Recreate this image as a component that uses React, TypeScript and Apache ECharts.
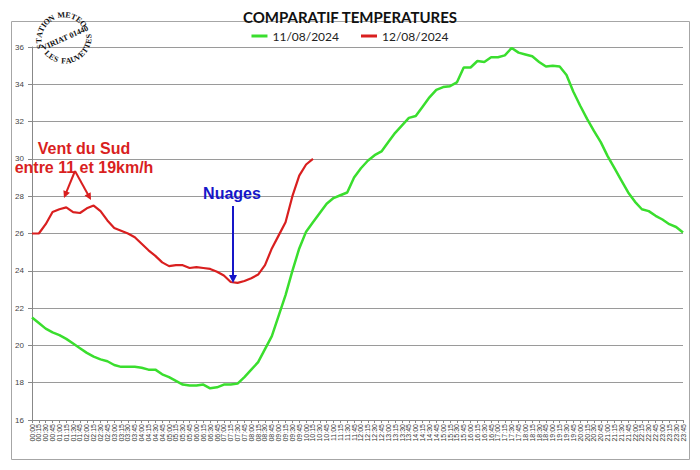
import React, { useEffect, useRef } from 'react';
import * as echarts from 'echarts';

// x-axis tick labels: every 15 minutes over the day
const timeLabels: string[] = [];
for (let h = 0; h < 24; h++) {
  for (let m = 0; m < 60; m += 15) {
    timeLabels.push(`${String(h).padStart(2, '0')}:${String(m).padStart(2, '0')}`);
  }
}

const seriesNames = ['11/08/2024', '12/08/2024'];

const temps11 = [
  21.5, 21.2, 20.9, 20.7, 20.55, 20.35, 20.1, 19.85, 19.6, 19.4,
  19.25, 19.15, 18.95, 18.85, 18.85, 18.85, 18.8, 18.7, 18.7, 18.45,
  18.3, 18.1, 17.9, 17.85, 17.85, 17.9, 17.7, 17.75, 17.9, 17.9,
  17.95, 18.3, 18.7, 19.1, 19.8, 20.5, 21.6, 22.7, 24.0, 25.2,
  26.1, 26.6, 27.1, 27.6, 27.9, 28.05, 28.2, 29.0, 29.5, 29.9,
  30.2, 30.4, 30.9, 31.4, 31.8, 32.2, 32.3, 32.8, 33.3, 33.7,
  33.85, 33.9, 34.1, 34.9, 34.9, 35.25, 35.2, 35.45, 35.45, 35.55,
  35.95, 35.7, 35.6, 35.5, 35.2, 34.95, 35.0, 34.95, 34.5, 33.6,
  32.85, 32.15, 31.5, 30.9, 30.15, 29.5, 28.85, 28.2, 27.7, 27.3,
  27.2, 26.95, 26.75, 26.5, 26.35, 26.05,
];

const temps12 = [
  26.0, 26.0, 26.5, 27.15, 27.3, 27.4, 27.15, 27.1, 27.35, 27.5,
  27.2, 26.7, 26.3, 26.15, 26.0, 25.8, 25.45, 25.1, 24.8, 24.45,
  24.25, 24.3, 24.3, 24.15, 24.2, 24.15, 24.1, 23.95, 23.75, 23.4,
  23.35, 23.45, 23.6, 23.8, 24.3, 25.2, 25.9, 26.6, 28.0, 29.1,
  29.7, 30.0,
];

const yMin = 16;
const yMax = 36;
const yStep = 2;

const titleText = 'COMPARATIF TEMPERATURES';
const logoTop = 'STATION METEO';
const logoMid = 'VIRIAT 01440';
const logoBottom = 'LES FAUVETTES';
const noteWind1 = 'Vent du Sud';
const noteWind2 = 'entre 11 et 19km/h';
const noteClouds = 'Nuages';

const deg = Math.PI / 180;

function charW(c: string) {
  if (c === 'I' || c === ' ') return 0.55;
  if (c === 'M') return 1.35;
  return 1;
}

function arcText(str: string, cx: number, cy: number, r: number, startDeg: number, endDeg: number, outward: boolean) {
  const els: any[] = [];
  const n = str.length;
  const ws = str.split('').map(charW);
  const total = ws.reduce((a, b) => a + b, 0) - ws[0] / 2 - ws[n - 1] / 2;
  let acc = 0;
  for (let i = 0; i < n; i++) {
    if (i > 0) acc += (ws[i - 1] + ws[i]) / 2;
    const th = startDeg + ((endDeg - startDeg) * acc) / total;
    const x = cx + r * Math.cos(th * deg);
    const y = cy + r * Math.sin(th * deg);
    const rot = outward ? -(th + 90) * deg : -(th - 90) * deg;
    if (str[i] === ' ') continue;
    els.push({
      type: 'text',
      x,
      y,
      rotation: rot,
      z: 100,
      style: {
        text: str[i],
        font: 'bold 8px "Liberation Serif"',
        fill: '#111',
        align: 'center',
        verticalAlign: 'middle',
      },
    });
  }
  return els;
}

function arrow(x1: number, y1: number, x2: number, y2: number, color: string, width: number, head: number, half: number) {
  const dx = x2 - x1;
  const dy = y2 - y1;
  const len = Math.sqrt(dx * dx + dy * dy);
  const ux = dx / len;
  const uy = dy / len;
  const bx = x2 - ux * head;
  const by = y2 - uy * head;
  const px = -uy * half;
  const py = ux * half;
  return [
    {
      type: 'line',
      z: 100,
      shape: { x1, y1, x2: bx + ux * 1, y2: by + uy * 1 },
      style: { stroke: color, lineWidth: width },
    },
    {
      type: 'polygon',
      z: 100,
      shape: { points: [[x2, y2], [bx + px, by + py], [bx - px, by - py]] },
      style: { fill: color },
    },
  ];
}

export default function App() {
  const ref = useRef<HTMLDivElement>(null);
  useEffect(() => {
    if (!ref.current) return;
    const chart = echarts.init(ref.current, undefined, { renderer: 'svg' });
    const red = '#d91f1f';
    const green = '#3ade2e';
    const blue = '#1616c8';
    const graphic: any[] = [
      {
        type: 'rect',
        z: 0,
        shape: { x: 11.5, y: 21.5, width: 678, height: 438 },
        style: { fill: 'none', stroke: '#a6a6a6', lineWidth: 1 },
      },
      ...arcText(logoTop, 64, 40, 25, 165, 320, true),
      ...arcText(logoBottom, 65, 37, 24, 136, -2, false),
      {
        type: 'text',
        x: 65,
        y: 38,
        rotation: 24 * deg,
        z: 100,
        style: {
          text: logoMid,
          font: 'bold 8px "Liberation Serif"',
          fill: '#111',
          align: 'center',
          verticalAlign: 'middle',
        },
      },
      {
        type: 'text',
        x: 84,
        y: 148,
        z: 100,
        style: {
          text: noteWind1,
          font: 'bold 16px "Liberation Sans"',
          fill: red,
          align: 'center',
          verticalAlign: 'middle',
        },
      },
      {
        type: 'text',
        x: 84,
        y: 167,
        z: 100,
        style: {
          text: noteWind2,
          font: 'bold 16px "Liberation Sans"',
          fill: red,
          align: 'center',
          verticalAlign: 'middle',
        },
      },
      ...arrow(75, 171, 64, 198, red, 2, 7, 3.5),
      ...arrow(75, 171, 91, 200, red, 2, 7, 3.5),
      {
        type: 'text',
        x: 232,
        y: 193,
        z: 100,
        style: {
          text: noteClouds,
          font: 'bold 16px "Liberation Sans"',
          fill: blue,
          align: 'center',
          verticalAlign: 'middle',
        },
      },
      ...arrow(233, 206, 233, 283, blue, 2, 8, 4),
    ];

    chart.setOption({
      animation: false,
      backgroundColor: '#ffffff',
      title: {
        text: titleText,
        left: 'center',
        top: 4,
        textStyle: {
          fontFamily: 'Lato',
          fontWeight: 'bold',
          fontSize: 15,
          color: '#111',
        },
      },
      legend: {
        top: 25,
        left: 'center',
        itemWidth: 16,
        itemHeight: 3,
        itemGap: 22,
        icon: 'rect',
        textStyle: { fontFamily: 'Lato', fontSize: 12, color: '#222' },
        data: seriesNames,
      },
      grid: { left: 32, right: 17, top: 47, bottom: 50, containLabel: false },
      xAxis: {
        type: 'category',
        data: timeLabels,
        boundaryGap: false,
        axisLine: { lineStyle: { color: '#888', width: 1 } },
        axisTick: { show: true, interval: 0, length: 3, lineStyle: { color: '#888' } },
        axisLabel: {
          interval: 0,
          rotate: 90,
          fontSize: 7,
          fontFamily: 'Liberation Sans',
          color: '#333',
          margin: 4,
        },
        splitLine: { show: false },
      },
      yAxis: {
        type: 'value',
        min: yMin,
        max: yMax,
        interval: yStep,
        axisLine: { show: true, lineStyle: { color: '#888', width: 1 } },
        axisTick: { show: true, length: 4, lineStyle: { color: '#888' } },
        axisLabel: { fontSize: 8, fontFamily: 'Liberation Sans', color: '#444', margin: 8 },
        splitLine: { show: true, lineStyle: { color: '#9a9a9a', width: 1 } },
      },
      series: [
        {
          name: seriesNames[0],
          type: 'line',
          data: temps11,
          symbol: 'none',
          smooth: false,
          lineStyle: { color: green, width: 2.5 },
          itemStyle: { color: green },
        },
        {
          name: seriesNames[1],
          type: 'line',
          data: temps12,
          symbol: 'none',
          smooth: false,
          lineStyle: { color: red, width: 2.2 },
          itemStyle: { color: red },
        },
      ],
      graphic,
    });
    return () => chart.dispose();
  }, []);
  return <div ref={ref} style={{ width: 700, height: 470, position: 'absolute', left: 0, top: 0 }} />;
}
